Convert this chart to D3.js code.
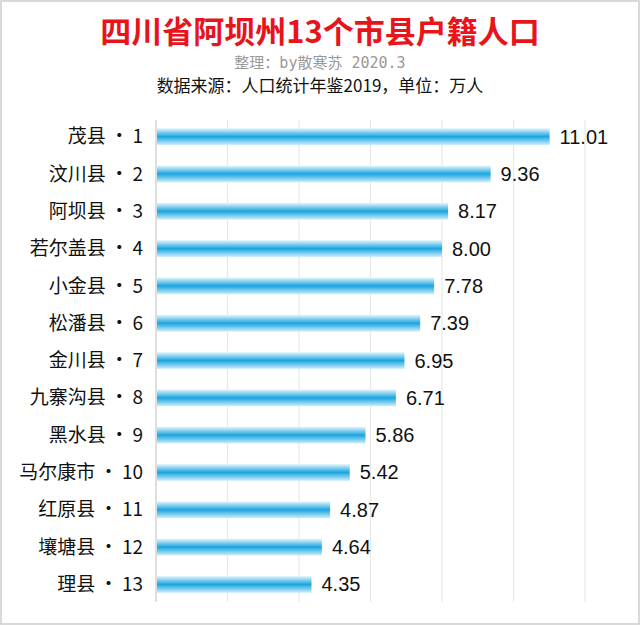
<!DOCTYPE html>
<html><head><meta charset="utf-8">
<script src="https://cdn.jsdelivr.net/npm/d3@7"></script>
<style>body{margin:0;background:#fff}svg{display:block}</style>
</head><body>
<script>
// data
var names = ["茂县","汶川县","阿坝县","若尔盖县","小金县","松潘县","金川县","九寨沟县","黑水县","马尔康市","红原县","壤塘县","理县"];
var values = [11.01,9.36,8.17,8.00,7.78,7.39,6.95,6.71,5.86,5.42,4.87,4.64,4.35];
var ticks = [0,2,4,6,8,10,12];

var W = 640, H = 625;
var svg = d3.select("body").append("svg").attr("width", W).attr("height", H);
var font = "'Noto Sans CJK SC', sans-serif";

svg.append("rect").attr("x",1).attr("y",1).attr("width",W-2).attr("height",H-2)
	.attr("fill","#fff").attr("stroke","#d9d9d9").attr("stroke-width",2);

// gradient for the bars: pale top, strong blue middle
var g = svg.append("defs").append("linearGradient").attr("id","barg")
	.attr("x1",0).attr("y1",0).attr("x2",0).attr("y2",1);
g.append("stop").attr("offset","0%").attr("stop-color","#e6f6fd");
g.append("stop").attr("offset","50%").attr("stop-color","#1aa5e0");
g.append("stop").attr("offset","100%").attr("stop-color","#d0eefa");

svg.append("text").attr("x",320).attr("y",43).attr("text-anchor","middle")
	.attr("font-family",font).attr("font-weight","bold").attr("font-size",31).attr("fill","#e8141b")
	.text("四川省阿坝州13个市县户籍人口");
svg.append("text").attr("x",320).attr("y",68).attr("text-anchor","middle")
	.attr("font-family","'DejaVu Sans Mono', 'Noto Sans CJK SC', monospace").attr("font-size",15).attr("fill","#999")
	.text("整理：by散寒苏 2020.3");
svg.append("text").attr("x",320).attr("y",92).attr("text-anchor","middle")
	.attr("font-family",font).attr("font-size",17).attr("fill","#111")
	.text("数据来源：人口统计年鉴2019，单位：万人");

var x = d3.scaleLinear().domain([0,12]).range([156,585]);
var y = d3.scaleBand().domain(names).range([117,604]).paddingInner(0.55).paddingOuter(0.3);

// grid
svg.append("g").selectAll("line").data(ticks).join("line")
	.attr("x1",function(d){return x(d);}).attr("x2",function(d){return x(d);})
	.attr("y1",120).attr("y2",602)
	.attr("stroke",function(d){return d===0?"#c8c8c8":"#e8e8e8";}).attr("stroke-width",1.2);

svg.append("g").selectAll("rect").data(values).join("rect")
	.attr("x",x(0)+1).attr("y",function(d,i){return y(names[i]);})
	.attr("width",function(d){return x(d)-x(0)-1;}).attr("height",y.bandwidth())
	.attr("fill","url(#barg)");

svg.append("g").selectAll("text").data(values).join("text")
	.attr("x",function(d){return x(d)+10;}).attr("y",function(d,i){return y(names[i])+y.bandwidth()/2;})
	.attr("dy","0.35em").attr("font-family","'Liberation Sans Narrow','Liberation Sans',sans-serif").attr("font-size",20).attr("fill","#111")
	.text(function(d){return d.toFixed(2);});

svg.append("g").selectAll("text").data(names).join("text")
	.attr("x",143).attr("y",function(d){return y(d)+y.bandwidth()/2;})
	.attr("dy","0.35em").attr("text-anchor","end").attr("font-family",font).attr("font-size",19).attr("fill","#111")
	.text(function(d,i){return d + "\u2009·\u2009" + (i+1);});
</script>
</body></html>
